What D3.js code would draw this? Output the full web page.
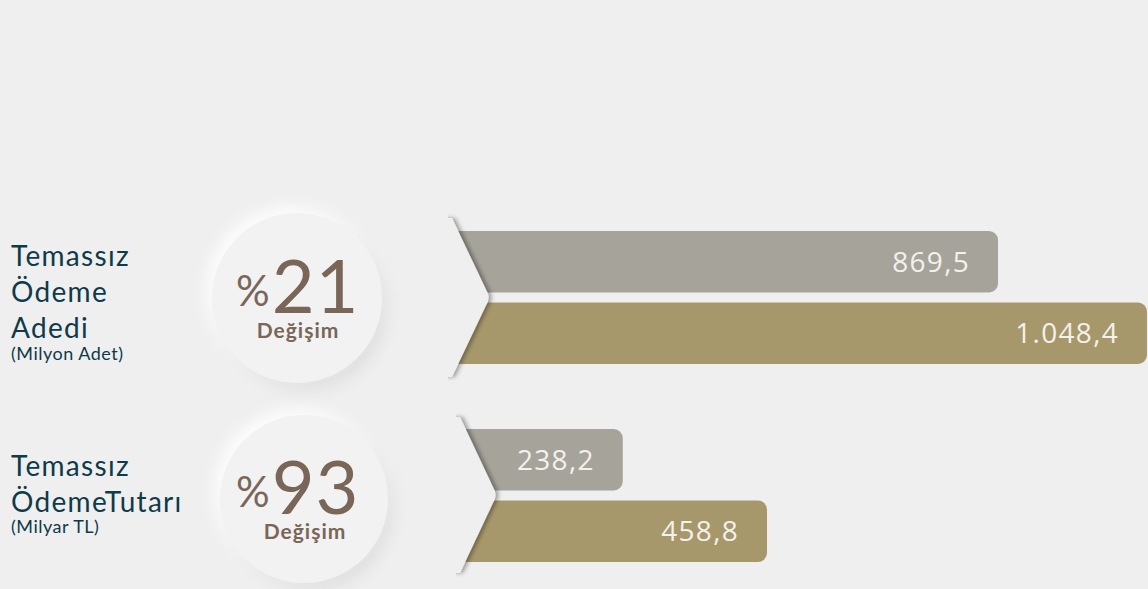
<!DOCTYPE html>
<html>
<head>
<meta charset="utf-8">
<script src="https://cdn.jsdelivr.net/npm/d3@7"></script>
<style>
	html, body { margin: 0; padding: 0; background: #efefef; }
	svg { display: block; }
</style>
</head>
<body>
<svg id="chart"></svg>
<script>
// data
const groupTitles = [["Temassız", "Ödeme", "Adedi"], ["Temassız", "ÖdemeTutarı"]];
const groupUnits = ["(Milyon Adet)", "(Milyar TL)"];
const changePct = [21, 93];
const seriesNames = ["2020", "2021"];
const valuesCount = [869.5, 1048.4];
const valuesAmount = [238.2, 458.8];

const W = 1148, H = 589;
const fmt = d3.formatLocale({decimal: ",", thousands: ".", grouping: [3], currency: ["", ""]}).format(",.1f");
const colors = d3.scaleOrdinal().domain(seriesNames).range(["#a6a39b", "#a7986c"]);

const svg = d3.select("#chart").attr("width", W).attr("height", H);
const defs = svg.append("defs");

const circShadow = defs.append("filter").attr("id", "circ-shadow")
	.attr("x", "-40%").attr("y", "-40%").attr("width", "180%").attr("height", "180%");
circShadow.append("feDropShadow").attr("dx", 5).attr("dy", 7).attr("stdDeviation", 7)
	.attr("flood-color", "#000").attr("flood-opacity", 0.13);
circShadow.append("feDropShadow").attr("dx", -6).attr("dy", -6).attr("stdDeviation", 7)
	.attr("flood-color", "#fff").attr("flood-opacity", 0.9);

const edgeShadow = defs.append("filter").attr("id", "edge-shadow")
	.attr("x", "-20%").attr("y", "-5%").attr("width", "140%").attr("height", "110%");
edgeShadow.append("feDropShadow").attr("dx", 3).attr("dy", 0).attr("stdDeviation", 2.2)
	.attr("flood-color", "#000").attr("flood-opacity", 0.35);

const groups = [
	{
		values: valuesCount, titleY: 266, unitY: 360,
		circle: {cx: 297, cy: 298, r: 85},
		bandTop: 231, bandBottom: 364,
		x: d3.scaleLinear().domain([0, valuesCount[1]]).range([274, 1147]),
		chev: {left: 452, top: 218, tip: 490, bottom: 377}
	},
	{
		values: valuesAmount, titleY: 476, unitY: 533,
		circle: {cx: 304, cy: 499, r: 84},
		bandTop: 429, bandBottom: 562,
		x: d3.scaleLinear().domain([0, valuesAmount[1]]).range([467, 767]),
		chev: {left: 460, top: 417, tip: 497, bottom: 573}
	}
];

groups.forEach((g, gi) => {
	const root = svg.append("g");

	// left title
	const title = root.append("text")
		.attr("font-family", "Lato, sans-serif")
		.attr("fill", "#0e3a4a");
	groupTitles[gi].forEach((line, li) => {
		title.append("tspan").attr("x", 11).attr("y", g.titleY + li * 36)
			.attr("font-size", 28).attr("letter-spacing", 1.3).text(line);
	});
	root.append("text")
		.attr("x", 11).attr("y", g.unitY)
		.attr("font-family", "Lato, sans-serif").attr("font-size", 18)
		.attr("letter-spacing", 0.5)
		.attr("fill", "#0e3a4a")
		.text(groupUnits[gi]);

	// bars
	const y = d3.scaleBand().domain(seriesNames).range([g.bandTop, g.bandBottom]).paddingInner(0.14);
	const barLeft = g.chev.left - 10;
	const r = 9;
	const barPath = (x1, y0, h) => {
		const p = d3.path();
		p.moveTo(barLeft, y0);
		p.lineTo(x1 - r, y0);
		p.arcTo(x1, y0, x1, y0 + r, r);
		p.lineTo(x1, y0 + h - r);
		p.arcTo(x1, y0 + h, x1 - r, y0 + h, r);
		p.lineTo(barLeft, y0 + h);
		p.closePath();
		return p.toString();
	};
	root.selectAll("path.bar")
		.data(g.values)
		.join("path")
		.attr("class", "bar")
		.attr("d", (d, i) => barPath(g.x(d), y(seriesNames[i]), y.bandwidth()))
		.attr("fill", (d, i) => colors(seriesNames[i]));

	root.selectAll("text.val")
		.data(g.values)
		.join("text")
		.attr("class", "val")
		.attr("x", d => g.x(d) - 28)
		.attr("y", (d, i) => y(seriesNames[i]) + y.bandwidth() / 2 + 10)
		.attr("text-anchor", "end")
		.attr("font-family", "'Open Sans', sans-serif")
		.attr("font-size", 28)
		.attr("letter-spacing", 1.3)
		.attr("fill", "#f3f1ec")
		.text(d => fmt(d));

	// chevron cut-out
	const c = g.chev;
	const mid = (c.top + c.bottom) / 2;
	const chev = d3.path();
	chev.moveTo(c.left - 30, c.top);
	chev.lineTo(c.left, c.top);
	chev.lineTo(c.tip - 4, mid - 8);
	chev.quadraticCurveTo(c.tip + 1, mid, c.tip - 4, mid + 8);
	chev.lineTo(c.left, c.bottom);
	chev.lineTo(c.left - 30, c.bottom);
	chev.closePath();
	root.append("path")
		.attr("d", chev.toString())
		.attr("fill", "#efefef")
		.attr("filter", "url(#edge-shadow)");
	root.append("rect")
		.attr("x", c.left - 40).attr("y", c.top - 6)
		.attr("width", 36).attr("height", c.bottom - c.top + 12)
		.attr("fill", "#efefef");

	// change circle
	const cc = g.circle;
	root.append("circle")
		.attr("cx", cc.cx).attr("cy", cc.cy).attr("r", cc.r)
		.attr("fill", "#f2f2f2")
		.attr("filter", "url(#circ-shadow)");
	const pct = root.append("text")
		.attr("x", 236).attr("y", cc.cy + 15)
		.attr("font-family", "Lato, sans-serif")
		.attr("fill", "#7a6658");
	pct.append("tspan").attr("font-size", 42).attr("dy", -7).text("%");
	pct.append("tspan").attr("font-size", 74).attr("dy", 7).attr("dx", 2)
		.attr("letter-spacing", 1).text(changePct[gi]);
	root.append("text")
		.attr("x", cc.cx + 1).attr("y", cc.cy + 40)
		.attr("text-anchor", "middle")
		.attr("font-family", "Lato, sans-serif")
		.attr("font-weight", "bold")
		.attr("font-size", 21)
		.attr("letter-spacing", 1)
		.attr("fill", "#7a6658")
		.text("Değişim");
});
</script>
</body>
</html>
